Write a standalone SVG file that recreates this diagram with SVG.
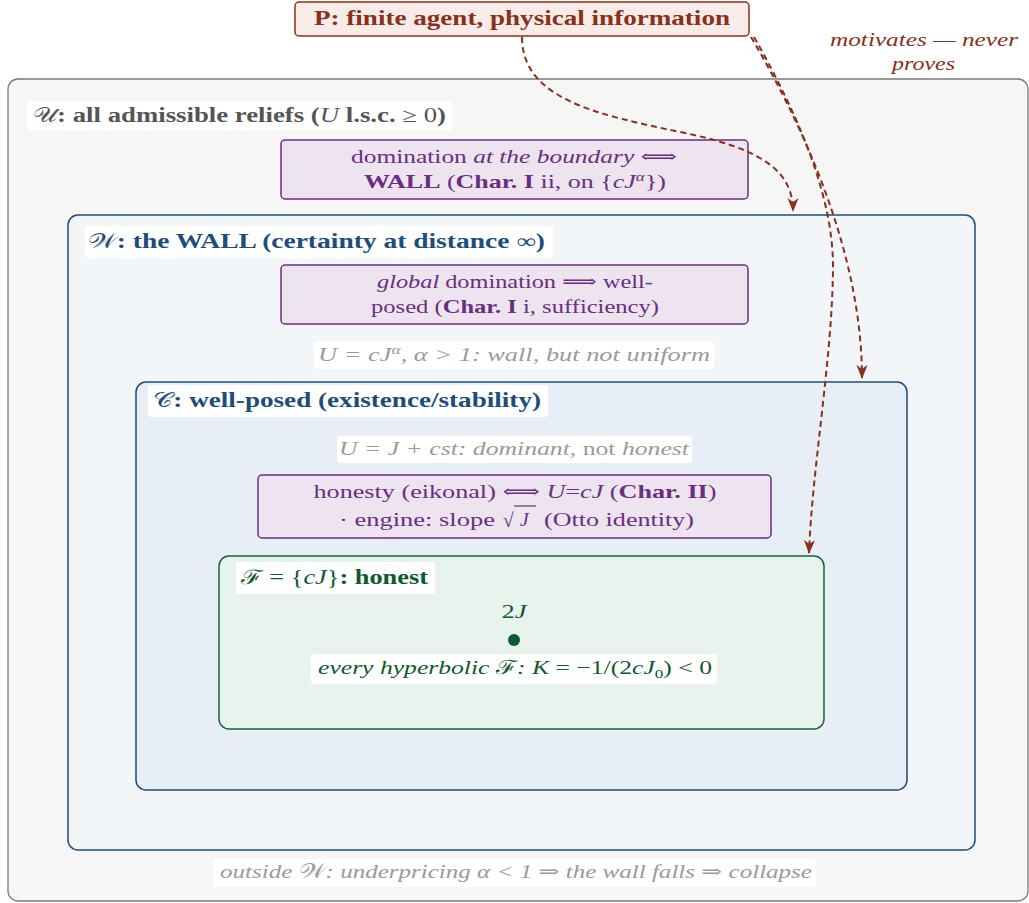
<svg xmlns="http://www.w3.org/2000/svg" width="1029" height="903" viewBox="0 0 1029 903">
<defs>
<marker id="ah" viewBox="0 0 14 12" refX="13" refY="6" markerWidth="14" markerHeight="12" markerUnits="userSpaceOnUse" orient="auto">
<path d="M0,0.5 L14,6 L0,11.5 L4,6 Z" fill="#8b2f1a"/>
</marker>
<style>
text{font-family:"Liberation Serif","DejaVu Serif",serif;}
.pt{font-size:22px;font-weight:bold;fill:#8b2f1a;}
.mot{font-size:19px;font-style:italic;fill:#8b2f1a;}
.lab{font-size:20px;font-weight:bold;}
.m{font-weight:normal;}
.i{font-style:italic;}
.sc{font-family:"DejaVu Serif","Noto Sans",serif;font-weight:normal;font-style:normal;}
.pur{font-size:19.5px;fill:#6b2d82;}
.gry{font-size:19.5px;fill:#9a9a9a;font-style:italic;}
.grn{font-size:19.5px;fill:#0d5a2e;}
.wb{fill:#ffffff;}
.con{fill:none;stroke:#8b2f1a;stroke-width:2;stroke-dasharray:6 4;}
</style>
</defs>

<g id="P">
<rect x="295" y="2" width="454" height="34" rx="4" fill="#f8ece9" stroke="#8b2f1a" stroke-width="1.5"/>
<text class="pt" x="522" y="25" text-anchor="middle" textLength="416" lengthAdjust="spacingAndGlyphs">P: finite agent, physical information</text>
</g>

<g id="note">
<text class="mot" x="924" y="46" text-anchor="middle" textLength="188" lengthAdjust="spacingAndGlyphs">motivates — never</text>
<text class="mot" x="923.5" y="70" text-anchor="middle" textLength="63" lengthAdjust="spacingAndGlyphs">proves</text>
</g>

<g id="U">
<rect x="8" y="79" width="1020" height="822" rx="10" fill="#f6f6f6" stroke="#7a7a7a" stroke-width="1.3"/>
<rect class="wb" x="27" y="101" width="425" height="29" rx="3"/>
<text class="lab" x="33" y="122" fill="#555555" textLength="413" lengthAdjust="spacingAndGlyphs"><tspan class="sc">𝒰</tspan>: all admissible reliefs (<tspan class="m i">U</tspan> l.s.c. <tspan class="m">≥ 0</tspan>)</text>
</g>

<g id="dom-boundary">
<rect x="281" y="140" width="467" height="59" rx="4" fill="#ede4f0" stroke="#6b2d82" stroke-width="1.5"/>
<text class="pur" x="514" y="163" text-anchor="middle" textLength="326" lengthAdjust="spacingAndGlyphs">domination <tspan class="i">at the boundary</tspan> ⟺</text>
<text class="pur" x="515" y="188" text-anchor="middle" textLength="302" lengthAdjust="spacingAndGlyphs"><tspan font-weight="bold">WALL</tspan> (<tspan font-weight="bold">Char. I</tspan> ii, on {<tspan class="i">cJ</tspan><tspan class="i" font-size="13" dy="-7">α</tspan><tspan dy="7">})</tspan></text>
</g>

<g id="W">
<rect x="68" y="215" width="907" height="635" rx="10" fill="#f2f6f9" stroke="#1d4d7a" stroke-width="1.5"/>
<rect class="wb" x="85" y="226" width="468" height="32" rx="3"/>
<text class="lab" x="88" y="248" fill="#1d4d7a" textLength="457" lengthAdjust="spacingAndGlyphs"><tspan class="sc">𝒲</tspan>: the WALL (certainty at distance <tspan class="m">∞</tspan>)</text>
</g>

<g id="global-dom">
<rect x="281" y="265" width="467" height="59" rx="4" fill="#ede4f0" stroke="#6b2d82" stroke-width="1.5"/>
<text class="pur" x="515" y="288" text-anchor="middle" textLength="276" lengthAdjust="spacingAndGlyphs"><tspan class="i">global</tspan> domination ⟹ well-</text>
<text class="pur" x="515" y="313" text-anchor="middle" textLength="288" lengthAdjust="spacingAndGlyphs">posed (<tspan font-weight="bold">Char. I</tspan> i, sufficiency)</text>
</g>

<g id="wall-example">
<rect class="wb" x="314" y="341" width="400" height="28" rx="3"/>
<text class="gry" x="514" y="361" text-anchor="middle" textLength="392" lengthAdjust="spacingAndGlyphs">U = cJ<tspan font-size="13" dy="-7">α</tspan><tspan dy="7">,  α &gt; 1: wall, but not uniform</tspan></text>
</g>

<g id="C">
<rect x="136" y="382" width="771" height="408" rx="10" fill="#e7eef6" stroke="#1d4d7a" stroke-width="1.5"/>
<rect class="wb" x="148" y="385" width="400" height="32" rx="3"/>
<text class="lab" x="153" y="407" fill="#1d4d7a" textLength="388" lengthAdjust="spacingAndGlyphs"><tspan class="sc">𝒞</tspan>: well-posed (existence/stability)</text>
</g>

<g id="dominant-example">
<rect class="wb" x="337" y="436" width="355" height="27" rx="3"/>
<text class="gry" x="514" y="455" text-anchor="middle" textLength="350" lengthAdjust="spacingAndGlyphs">U = J + cst: dominant, <tspan font-style="normal">not</tspan> honest</text>
</g>

<g id="honesty">
<rect x="258" y="475" width="513" height="63" rx="4" fill="#ede4f0" stroke="#6b2d82" stroke-width="1.5"/>
<text class="pur" x="515" y="498" text-anchor="middle" textLength="403" lengthAdjust="spacingAndGlyphs">honesty (eikonal) ⟺ <tspan class="i">U</tspan>=<tspan class="i">cJ</tspan> (<tspan font-weight="bold">Char. II</tspan>)</text>
<text class="pur" x="339" y="526" textLength="156" lengthAdjust="spacingAndGlyphs">·    engine: slope</text>
<text class="pur" x="503" y="527" font-size="22">√</text>
<line x1="514" y1="506" x2="536" y2="506" stroke="#6b2d82" stroke-width="1.2"/>
<text class="pur i" x="520" y="526">J</text>
<text class="pur" x="544" y="526" textLength="150" lengthAdjust="spacingAndGlyphs">(Otto identity)</text>
</g>

<g id="F">
<rect x="219" y="556" width="605" height="173" rx="10" fill="#e9f3ee" stroke="#17643a" stroke-width="1.5"/>
<rect class="wb" x="236" y="562" width="199" height="32" rx="3"/>
<text class="lab" x="241" y="584" fill="#0d5a2e" textLength="187" lengthAdjust="spacingAndGlyphs"><tspan class="sc">ℱ</tspan><tspan class="m"> = {</tspan><tspan class="m i">cJ</tspan><tspan class="m">}</tspan>: honest</text>
<text class="grn" x="514" y="618" text-anchor="middle" textLength="25" lengthAdjust="spacingAndGlyphs">2<tspan class="i">J</tspan></text>
<circle cx="514" cy="640" r="6" fill="#0d5a2e"/>
<rect class="wb" x="311" y="654" width="406" height="30" rx="3"/>
<text class="grn" x="515" y="674" text-anchor="middle" textLength="394" lengthAdjust="spacingAndGlyphs"><tspan class="i">every hyperbolic </tspan><tspan class="sc">ℱ</tspan><tspan class="i">: K</tspan> = −1/(2<tspan class="i">cJ</tspan><tspan font-size="13" dy="4">0</tspan><tspan dy="-4">) &lt; 0</tspan></text>
</g>

<g id="outside">
<rect class="wb" x="213" y="859" width="603" height="28" rx="3"/>
<text class="gry" x="516" y="878" text-anchor="middle" textLength="592" lengthAdjust="spacingAndGlyphs">outside <tspan class="sc" font-style="normal">𝒲</tspan>: underpricing α &lt; 1 ⇒ the wall falls ⇒ collapse</text>
</g>

<g id="connectors">
<path class="con" d="M522,37 C522,100 600,115 680,132 C760,148 793,170 793,211" marker-end="url(#ah)"/>
<path class="con" d="M751,37 C800,120 862,250 862,378" marker-end="url(#ah)"/>
<path class="con" d="M754,37 C801,120 834,200 833,270 C832,360 812,470 809,553" marker-end="url(#ah)"/>
</g>
</svg>
